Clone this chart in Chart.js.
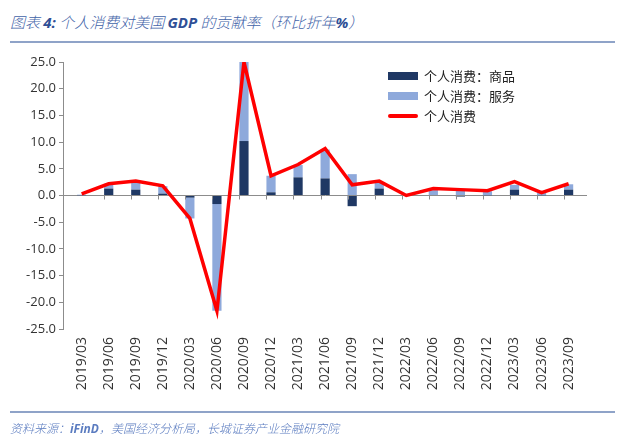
<!DOCTYPE html>
<html>
<head>
<meta charset="utf-8">
<script src="https://cdn.jsdelivr.net/npm/chart.js@4/dist/chart.umd.min.js"></script>
<style>
  html, body { margin: 0; padding: 0; background: #fff; }
  #wrap { position: relative; width: 640px; height: 443px; overflow: hidden; }
  #c { position: absolute; left: 0; top: 0; }
  .title { position: absolute; left: 10px; top: 12px; font-family: "Noto Sans CJK SC", "Open Sans", sans-serif; font-style: italic; font-weight: 300; font-size: 15px; color: #4263A8; white-space: nowrap; line-height: 20px; }
  .title b { font-family: "Open Sans", sans-serif; font-weight: 700; color: #2F4F96; }
  .rule { position: absolute; left: 10px; width: 605px; height: 2px; background: #8FA3C8; }
  .source { position: absolute; left: 10px; top: 419px; font-family: "Noto Sans CJK SC", "Open Sans", sans-serif; font-style: italic; font-weight: 300; font-size: 12px; color: #5B7CC0; white-space: nowrap; line-height: 18px; }
  .source b { font-family: "Open Sans", sans-serif; font-weight: 700; }
  #legend { position: absolute; left: 388px; top: 66px; font-family: "Noto Sans CJK SC", sans-serif; font-size: 13px; color: #222; }
  .li { position: relative; height: 20px; line-height: 20px; padding-left: 36px; white-space: nowrap; }
  .sw { position: absolute; left: 0; }
</style>
</head>
<body>
<div id="wrap">
  <div class="title">图表 <b>4:</b> 个人消费对美国 <b>GDP</b> 的贡献率（环比折年<b>%</b>）</div>
  <div class="rule" style="top:41px"></div>
  <canvas id="c" width="640" height="443"></canvas>
  <div id="legend"></div>
  <div class="rule" style="top:411px"></div>
  <div class="source">资料来源：<b>iFinD</b>，美国经济分析局，长城证券产业金融研究院</div>
</div>
<script>
const categories = ["2019/03","2019/06","2019/09","2019/12","2020/03","2020/06","2020/09","2020/12","2021/03","2021/06","2021/09","2021/12","2022/03","2022/06","2022/09","2022/12","2023/03","2023/06","2023/09"];
const goods    = [0.05, 1.3, 1.1, 0.35, -0.4, -1.6, 10.2, 0.6, 3.4, 3.2, -2.0, 1.3, -0.1, 0.0, -0.2, 0.05, 1.1, 0.05, 1.1];
const services = [0.1, 0.9, 1.5, 1.4, -3.9, -20.0, 14.8, 3.1, 2.3, 5.4, 4.0, 1.2, 0.1, 1.0, 0.9, 0.75, 0.9, 0.5, 1.0];
const total    = [0.3, 2.2, 2.7, 1.8, -4.3, -21.6, 25.0, 3.7, 5.8, 8.8, 2.0, 2.7, 0.0, 1.3, 1.1, 0.9, 2.6, 0.55, 2.2];
const seriesNames = ["个人消费：商品", "个人消费：服务", "个人消费"];
const yTicks = [25, 20, 15, 10, 5, 0, -5, -10, -15, -20, -25];

const NAVY = "#1F3864", LIGHT = "#8EA9DB", RED = "#FF0000", AXIS = "#8C8C8C";
const toXY = arr => arr.map((v, i) => ({x: i, y: v}));

const xTickMarks = {
  id: 'xTickMarks',
  afterDatasetsDraw(chart) {
    const xs = chart.scales.x, ys = chart.scales.y, ctx = chart.ctx;
    const meta = chart.getDatasetMeta(0);
    const half = meta.data.length ? meta.data[0].width / 2 : 5;
    const y0 = ys.getPixelForValue(0);
    ctx.save();
    ctx.strokeStyle = AXIS;
    ctx.lineWidth = 1;
    ctx.beginPath();
    for (let i = 1; i < categories.length; i++) {
      const x = Math.round(xs.getPixelForValue(i) - half) + 0.5;
      ctx.moveTo(x, y0);
      ctx.lineTo(x, y0 + 4);
    }
    ctx.stroke();
    ctx.restore();
  }
};

const chart = new Chart(document.getElementById('c'), {
  data: {
    datasets: [
      { type: 'bar', label: seriesNames[0], data: toXY(goods), backgroundColor: NAVY, stack: 'bars', order: 2,
        barPercentage: 1.0, categoryPercentage: 0.34 },
      { type: 'bar', label: seriesNames[1], data: toXY(services), backgroundColor: LIGHT, stack: 'bars', order: 2,
        barPercentage: 1.0, categoryPercentage: 0.34 },
      { type: 'line', label: seriesNames[2], data: toXY(total), borderColor: RED, backgroundColor: RED, borderWidth: 3.5,
        pointRadius: 0, tension: 0, stack: 'line', order: 1, borderJoinStyle: 'miter' }
    ]
  },
  options: {
    responsive: false,
    animation: false,
    devicePixelRatio: 1,
    layout: { padding: { top: 62, right: 53, bottom: 0, left: 0 } },
    plugins: { legend: { display: false }, tooltip: { enabled: false } },
    scales: {
      x: {
        type: 'linear', stacked: true, min: -0.18, max: 18.17,
        afterBuildTicks: s => { s.ticks = categories.map((_, i) => ({ value: i })); },
        afterFit: s => { s.height = 443 - 329; },
        grid: { display: false, drawTicks: false },
        border: { display: false },
        ticks: {
          autoSkip: false, minRotation: 90, maxRotation: 90, padding: 8,
          color: '#333', font: { family: 'Open Sans', size: 14 },
          callback: v => categories[v] ?? ''
        }
      },
      y: {
        stacked: true, min: -25, max: 25,
        afterBuildTicks: s => { s.ticks = yTicks.map(v => ({ value: v })); },
        afterFit: s => { s.width = 63; },
        grid: {
          color: c => (c.tick && c.tick.value === 0) ? AXIS : 'rgba(0,0,0,0)',
          tickColor: AXIS, tickLength: 4, lineWidth: 1
        },
        border: { display: true, color: AXIS, width: 1 },
        ticks: {
          padding: 3, color: '#333', font: { family: 'Open Sans', size: 13 },
          callback: v => Number(v).toFixed(1)
        }
      }
    }
  },
  plugins: [xTickMarks]
});

// legend built from datasets
const lg = document.getElementById('legend');
chart.data.datasets.forEach(ds => {
  const row = document.createElement('div');
  row.className = 'li';
  const sw = document.createElement('span');
  sw.className = 'sw';
  if (ds.type === 'line') {
    sw.style.cssText = 'left:0;top:8px;width:30px;height:4px;border-radius:2px;background:' + ds.borderColor;
  } else {
    sw.style.cssText = 'left:0;top:6px;width:30px;height:8px;background:' + ds.backgroundColor;
  }
  row.appendChild(sw);
  row.appendChild(document.createTextNode(ds.label));
  lg.appendChild(row);
});
</script>
</body>
</html>
